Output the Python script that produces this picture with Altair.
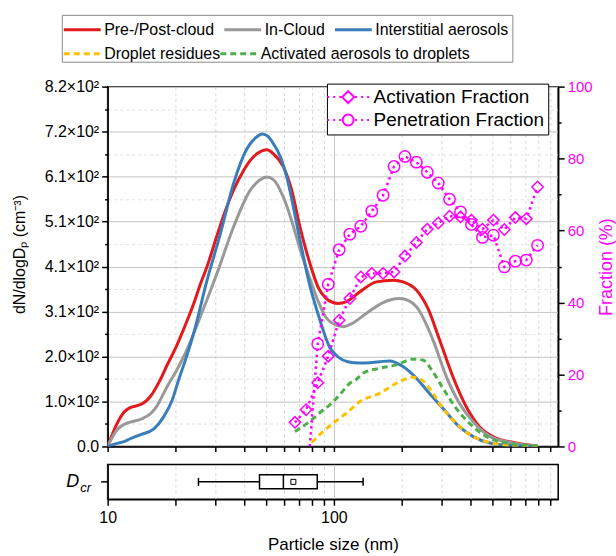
import json
import altair as alt
import pandas as pd

FONT = "Liberation Sans"
MAGENTA = "#ff00ff"

# ---------------- data ----------------
solid_names = ["Pre-/Post-cloud", "In-Cloud", "Interstitial aerosols"]
solid_colors = ["#e31a1c", "#999999", "#3a7dbb"]
dashed_names = ["Droplet residues", "Activated aerosols to droplets"]
dashed_colors = ["#ffc000", "#4daf4a"]

red_x = [10, 11, 11.8, 12.5, 13.5, 14.5, 15.5, 17, 18.3, 20, 21.7, 24, 25.7, 27.5, 30.4, 33, 36, 40,
         42.7, 46, 50.5, 54, 59.8, 65, 70.8, 78, 85.3, 92, 99, 104.3, 113.6, 130, 154, 183, 202,
         232, 260, 293, 335, 384, 440, 521, 638, 794]
red_y = [0, 52, 78, 88, 93, 100, 115, 150, 185, 225, 268, 325, 370, 410, 480, 535, 584, 630,
         652, 668, 676, 667, 637, 585, 500, 420, 362, 338, 328, 326, 330, 352, 375, 379, 375,
         356, 315, 243, 160, 91, 45, 19, 8, 1]

gray_x = [10, 11, 11.8, 12.5, 14, 15.5, 16.5, 18.3, 20, 21.7, 25.7, 30.4, 36, 42.7, 47, 50.5, 54,
          59.8, 65, 70.8, 78, 85.3, 92, 99, 110, 120, 139, 165, 195, 215, 232, 274, 314, 358,
          411, 489, 614, 794]
gray_y = [0, 38, 50, 55, 62, 75, 92, 136, 170, 205, 296, 394, 500, 584, 607, 614, 608,
          568, 515, 450, 385, 330, 295, 280, 273, 280, 303, 328, 337, 332, 318, 243, 159, 99,
          57, 23, 8, 1]

blue_x = [10, 11, 11.8, 12.5, 14, 16, 17.7, 19.3, 20.6, 22, 24, 27.5, 31.5, 36, 41.2, 45, 48.3,
          51, 54, 58, 61.9, 70.8, 78, 85.3, 96, 105, 115, 130, 159, 176, 202, 232, 264, 303,
          358, 411, 489, 614, 794]
blue_y = [0, 7, 11, 17, 27, 40, 68, 106, 152, 195, 258, 379, 485, 599, 678, 703, 712,
          707, 690, 660, 614, 470, 370, 300, 225, 203, 193, 190, 193, 195, 182, 155, 121, 87,
          45, 23, 8, 2, 0]

orange_x = [79.7, 90, 99, 113.6, 130, 159, 189, 210, 223, 247, 274, 303, 347, 411, 471, 560, 794]
orange_y = [9, 35, 53, 76, 102, 121, 144, 155, 158, 150, 121, 87, 53, 23, 11, 4, 0]

green_x = [67.3, 78.2, 89.6, 96, 107, 117.6, 125, 134.6, 159, 189, 223, 247, 274, 303, 347, 397,
           471, 577, 794]
green_y = [34, 57, 83, 95, 120, 144, 152, 167, 178, 186, 199, 197, 170, 133, 87, 53,
           23, 8, 1]

frac_names = ["Activation Fraction", "Penetration Fraction"]
act_x = [67.3, 75.3, 84.8, 94.4, 105.5, 117.6, 131.5, 147, 164.9, 184.4, 206.1, 231.4, 258.7,
         289.2, 324.3, 362.6, 405.4, 453.4, 506.8, 566.6, 633.6, 708.5, 794.5]
act_f = [6.7, 10.2, 17.7, 25.1, 35.1, 41.1, 47.1, 48.1, 48.1, 48.5, 52.9, 56.7, 60.4,
         62.1, 64, 63.8, 62.9, 60.4, 62.9, 60.3, 63.6, 63.3, 72.1]
pen_x = [78.2, 84.8, 94.4, 105.5, 117.6, 131.5, 147, 164.9, 184.4, 206.1, 231.4, 258.7,
         289.2, 324.3, 362.6, 405.4, 453.4, 506.8, 566.6, 633.6, 708.5, 794.5]
pen_f = [0, 28.5, 45.1, 54.7, 59, 61.2, 65.4, 69.8, 77.8, 80.6, 79, 76.2, 73.2,
         68.7, 65.2, 61.7, 58.1, 58.7, 49.9, 51.5, 51.8, 55.9]

# D_cr box statistics (nm)
dcr_label = ["D"]
dcr_min = [25.2]
dcr_q1 = [46.9]
dcr_median = [59.8]
dcr_mean = [66.2]
dcr_q3 = [84.4]
dcr_max = [134.6]

# axes
x_domain = [10, 980]
x_ticks = [10, 20, 30, 40, 50, 60, 70, 80, 90, 100, 200, 300, 400, 500, 600, 700, 800, 900]
y_domain = [0, 820]
y_ticks = [0, 51.25, 102.5, 153.75, 205, 256.25, 307.5, 358.75, 410, 461.25, 512.5,
           563.75, 615, 666.25, 717.5, 768.75, 820]
y_tick_labels = ["0.0", "1.0×10²", "2.0×10²", "3.1×10²", "4.1×10²", "5.1×10²",
                 "6.1×10²", "7.2×10²", "8.2×10²"]
frac_ticks = [0, 10, 20, 30, 40, 50, 60, 70, 80, 90, 100]


# ---------------- tables ----------------
def long_table(names, xs_list, ys_list):
    rows = []
    for name, xs, ys in zip(names, xs_list, ys_list):
        for i, (a, b) in enumerate(zip(xs, ys)):
            rows.append({"size": a, "dn": b, "series": name, "order": i})
    return pd.DataFrame(rows)


solid_df = long_table(solid_names, [red_x, gray_x, blue_x], [red_y, gray_y, blue_y])
dashed_df = long_table(dashed_names, [orange_x, green_x], [orange_y, green_y])

frows = []
for name, xs, fs in zip(frac_names, [act_x, pen_x], [act_f, pen_f]):
    for i, (a, b) in enumerate(zip(xs, fs)):
        frows.append({"size": a, "f": b, "ftype": name, "order": i})
fracs = pd.DataFrame(frows)

box = pd.DataFrame({"cat": dcr_label, "lo": dcr_min, "q1": dcr_q1, "med": dcr_median,
                    "mean": dcr_mean, "q3": dcr_q3, "hi": dcr_max})

# ---------------- scales / axes ----------------
x_scale = alt.Scale(type="log", domain=x_domain, nice=False)
grid_test = "datum.value == 100 || datum.value == 10"
x_grid = dict(
    grid=True,
    gridDash={"condition": {"test": grid_test, "value": []}, "value": [3, 3]},
    gridColor={"condition": {"test": grid_test, "value": "#c4c4c4"}, "value": "#dadada"},
    gridWidth=1,
)
main_x_axis = alt.Axis(values=x_ticks, labels=False, title=None, tickSize=5, **x_grid)

minor_test = "round(datum.value / 51.25) % 2 == 1"
left_axis = alt.Axis(
    values=y_ticks,
    labelExpr=f"{minor_test} ? '' : {json.dumps(y_tick_labels, ensure_ascii=False)}[round(datum.value / 102.5)]",
    tickSize={"condition": {"test": minor_test, "value": 3}, "value": 6},
    grid=True,
    gridDash={"condition": {"test": minor_test, "value": [3, 3]}, "value": []},
    gridColor={"condition": {"test": minor_test, "value": "#e0e0e0"}, "value": "#c4c4c4"},
    title="dN/dlogDₚ (cm⁻³)",
    titleFontSize=16,
    titleX=-88.5, titleY=168, titleBaseline="middle", titleAngle=270,
    labelPadding=3, labelFontSize=16,
)

frac_minor = "datum.value % 20 != 0"
right_axis = alt.Axis(
    orient="right",
    values=frac_ticks,
    labelExpr=f"{frac_minor} ? '' : datum.label",
    tickSize={"condition": {"test": frac_minor, "value": 3}, "value": 6},
    grid=False,
    labelColor=MAGENTA,
    titleColor=MAGENTA,
    title="Fraction (%)",
    titleAngle=270, titleX=48, titleBaseline="middle", titleFontSize=18,
    labelPadding=3, labelFontSize=15,
)

X = alt.X("size:Q", scale=x_scale, axis=main_x_axis)
Yl = alt.Y("dn:Q", scale=alt.Scale(domain=y_domain, nice=False, zero=True), axis=left_axis)

legend_common = dict(
    orient="none", direction="horizontal", legendX=-46,
    symbolType="M-2,0H2", symbolSize=342, symbolStrokeWidth=3,
    labelFontSize=16, labelLimit=400, labelOffset=11, symbolOffset=5.5, padding=4,
)

solid_legend = alt.Legend(
    title=" ", titleOrient="bottom", titleFontSize=16, titlePadding=4,
    legendY=-72, columns=3, columnPadding=4,
    strokeColor="#8a8a8a", fillColor="white", **legend_common)

dashed_legend = alt.Legend(
    title=None, legendY=-48, columns=2, columnPadding=-6, symbolDash=[6, 4], **legend_common)

solid_layer = alt.Chart(solid_df).mark_line(strokeWidth=3, interpolate="monotone", clip=True).encode(
    x=X, y=Yl,
    color=alt.Color("series:N", scale=alt.Scale(domain=solid_names, range=solid_colors),
                    legend=solid_legend),
    order=alt.Order("order:Q"),
)

dashed_layer = alt.Chart(dashed_df).mark_line(strokeWidth=3, strokeDash=[6, 4],
                                              interpolate="monotone", clip=True).encode(
    x=X, y=Yl,
    color=alt.Color("series:N", scale=alt.Scale(domain=dashed_names, range=dashed_colors),
                    legend=dashed_legend),
    order=alt.Order("order:Q"),
)

curve_group = alt.layer(solid_layer, dashed_layer).resolve_scale(color="independent")

Yf = alt.Y("f:Q", scale=alt.Scale(domain=[0, 100], nice=False), axis=right_axis)

frac_lines = alt.Chart(fracs).mark_line(color=MAGENTA, strokeWidth=2.5, strokeDash=[2.5, 3.5],
                                        clip=True).encode(
    x=X, y=Yf, detail="ftype:N", order=alt.Order("order:Q"))

frac_points = alt.Chart(fracs).transform_filter("datum.f > 0").mark_point(
    filled=False, color=MAGENTA, size=130, strokeWidth=1.5, opacity=1, clip=True).encode(
    x=X, y=Yf,
    shape=alt.Shape("ftype:N", scale=alt.Scale(domain=frac_names, range=["diamond", "circle"]),
                    legend=None))

dots = "M-4.2,0h0.4M-3,0h0.4M-1.8,0h0.4M1.4,0h0.4M2.6,0h0.4M3.8,0h0.4"
diamond_sym = dots + "M0,-1.2L1.2,0L0,1.2L-1.2,0Z"
circle_sym = dots + "M-1.1,0A1.1,1.1,0,1,0,1.1,0A1.1,1.1,0,1,0,-1.1,0Z"

frac_legend_layer = alt.Chart(fracs).transform_filter("false").mark_point(
    filled=False, color=MAGENTA, size=100, strokeWidth=2, opacity=1).encode(
    x=X, y=Yf,
    shape=alt.Shape("ftype:N", scale=alt.Scale(domain=frac_names, range=[diamond_sym, circle_sym]),
                    legend=alt.Legend(title=None, orient="none", legendX=220, legendY=-3,
                                      symbolSize=100, symbolStrokeWidth=2,
                                      labelFontSize=19, labelLimit=400,
                                      symbolOffset=7.8, labelOffset=16,
                                      padding=4, rowPadding=3,
                                      strokeColor="black", fillColor="white")))

frac_group = alt.layer(frac_lines, frac_points, frac_legend_layer).resolve_scale(shape="independent")

main = alt.layer(curve_group, frac_group).resolve_scale(
    y="independent", shape="independent", color="independent").properties(width=452, height=361)

# ---------------- D_cr box panel ----------------
box_x_axis = alt.Axis(
    values=x_ticks, title="Particle size (nm)", tickSize=6, labelPadding=4,
    labelExpr="(datum.value == 10 || datum.value == 100) ? format(datum.value, 'd') : ''",
    labelFontSize=16, titleFontSize=17, titleY=45, titleBaseline="middle", **x_grid)
Xb = alt.X("lo:Q", scale=x_scale, axis=box_x_axis)
Yb = alt.Y("cat:N", scale=alt.Scale(paddingInner=0, paddingOuter=0),
           axis=alt.Axis(title="cr", titleAngle=0, titleAlign="left", titleBaseline="alphabetic",
                         titleX=-28, titleY=27, titleFontStyle="italic", titleFontSize=13,
                         labelFontStyle="italic", labelFontSize=18, tickSize=7, labelPadding=22))

whisker = alt.Chart(box).mark_rule(color="black", strokeWidth=1.5).encode(
    x=Xb, x2="hi:Q", y=Yb)
box_rect = alt.Chart(box).mark_bar(fill="white", stroke="black", strokeWidth=1.5, size=14).encode(
    x=alt.X("q1:Q", scale=x_scale), x2="q3:Q", y=alt.Y("cat:N"))
cap_lo = alt.Chart(box).mark_tick(color="black", size=8, thickness=1.5, opacity=1).encode(
    x=alt.X("lo:Q", scale=x_scale), y=alt.Y("cat:N"))
cap_hi = alt.Chart(box).mark_tick(color="black", size=8, thickness=1.5, opacity=1).encode(
    x=alt.X("hi:Q", scale=x_scale), y=alt.Y("cat:N"))
median = alt.Chart(box).mark_tick(color="black", size=14, thickness=1.5, opacity=1).encode(
    x=alt.X("med:Q", scale=x_scale), y=alt.Y("cat:N"))
mean_pt = alt.Chart(box).mark_point(shape="square", size=25, filled=False, color="black",
                                    strokeWidth=1, opacity=1).encode(
    x=alt.X("mean:Q", scale=x_scale), y=alt.Y("cat:N"))

box_panel = alt.layer(whisker, box_rect, cap_lo, cap_hi, median, mean_pt).properties(
    width=452, height=35)

chart = alt.vconcat(main, box_panel, spacing=18).resolve_scale(
    color="independent", shape="independent"
).properties(
    padding={"left": 10, "top": 12, "right": 0, "bottom": 4},
    bounds="flush",
    background="white",
).configure_view(
    stroke="black", strokeWidth=1.5
).configure_axis(
    labelFont=FONT, titleFont=FONT, labelFontSize=15, titleFontSize=17,
    titleFontWeight="normal", labelColor="black", titleColor="black",
    domainColor="black", domainWidth=1.5, tickColor="black", tickWidth=1.5,
    labelFlush=False, labelOverlap=False,
).configure_legend(
    labelFont=FONT, labelColor="black", titleFont=FONT,
)

chart.save("out.html", embed_options={"renderer": "svg", "actions": False})
